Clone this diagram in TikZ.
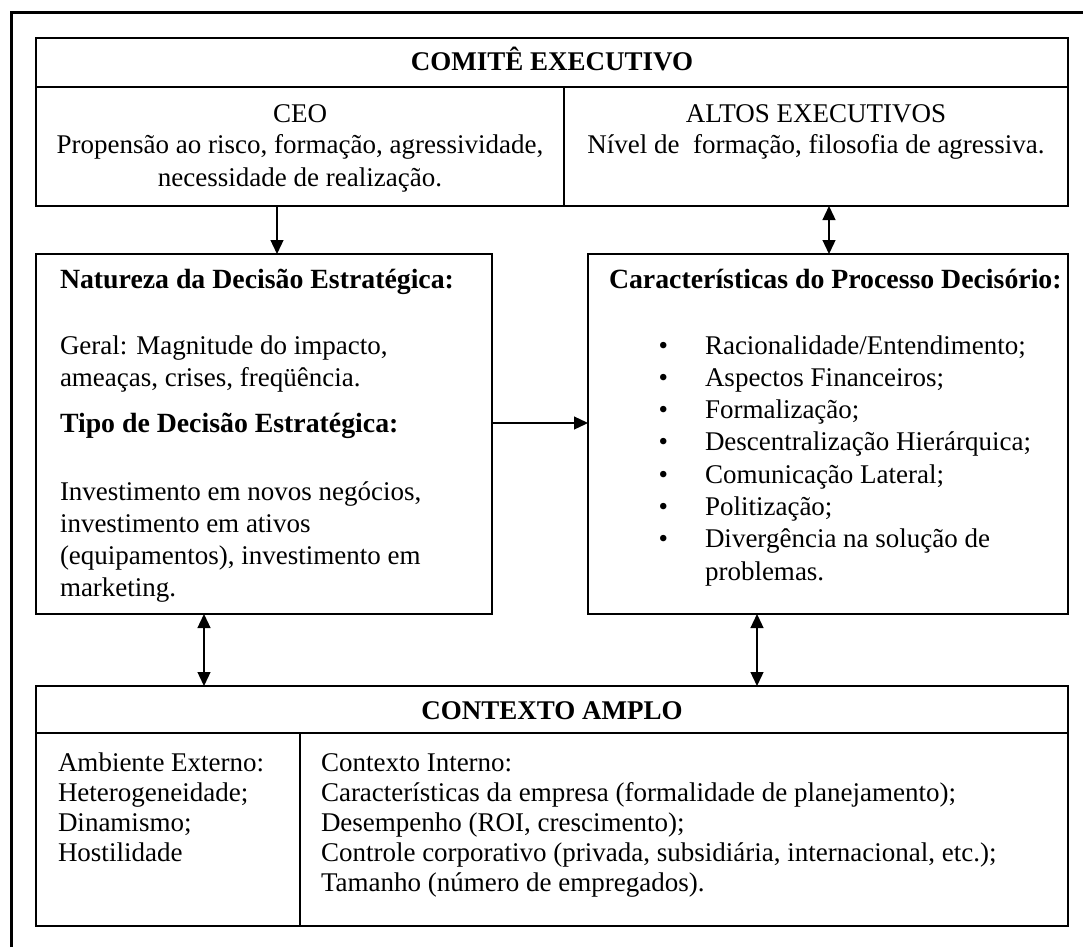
\documentclass[tikz,border=0pt]{standalone}
\usepackage{fontspec}
\setmainfont{Liberation Serif}
\usetikzlibrary{arrows.meta}

% bullet item for the decision-process list
\newcommand{\bitem}[1]{\makebox[46.5pt][l]{•}#1}

\tikzset{
  cell/.style={draw, line width=1.3pt, inner sep=0pt, outer sep=0pt, anchor=north west},
  txt/.style={inner sep=0pt, outer sep=0pt, font=\fontsize{27}{32}\selectfont},
  head/.style={txt, font=\fontsize{27.8}{32}\selectfont\bfseries},
  arr/.style={line width=1.3pt, -{Triangle[length=14pt,width=13pt]}},
  dbl/.style={line width=1.3pt, {Triangle[length=14pt,width=13pt]}-{Triangle[length=14pt,width=13pt]}},
}

\begin{document}
\begin{tikzpicture}[x=1pt,y=-1pt]
\useasboundingbox (0,0) rectangle (1083,947);

% outer frame (top and left edges)
\draw[line width=3pt] (11,947) -- (11,13) -- (1083,13);

% executive committee
\node[cell, minimum width=1032pt, minimum height=49pt]  (hdr)   at (36,38)  {};
\node[cell, minimum width=528pt,  minimum height=119pt] (ceo)   at (36,87)  {};
\node[cell, minimum width=504pt,  minimum height=119pt] (altos) at (564,87) {};

% strategic decision and decision process
\node[cell, minimum width=456pt, minimum height=360pt] (nat)  at (36,254)  {};
\node[cell, minimum width=480pt, minimum height=360pt] (proc) at (588,254) {};

% broad context
\node[cell, minimum width=1032pt, minimum height=47pt]  (ctx) at (36,686)  {};
\node[cell, minimum width=264pt,  minimum height=193pt] (ext) at (36,733)  {};
\node[cell, minimum width=768pt,  minimum height=193pt] (int) at (300,733) {};

% texts
\node[txt, anchor=base] (hdrt) at (552,71) {\bfseries COMITÊ EXECUTIVO};
\node[txt, anchor=base] (ceot) at (300,122)
  {\begin{tabular}[t]{@{}c@{}}CEO\\Propensão ao risco, formação, agressividade,\\necessidade de realização.\end{tabular}};
\node[txt, anchor=base] (altost) at (816,122)
  {\begin{tabular}[t]{@{}c@{}}ALTOS EXECUTIVOS\\Nível de\ \ formação, filosofia de agressiva.\end{tabular}};

\node[head, anchor=base west] (natt1) at (60,288) {Natureza da Decisão Estratégica:};
\node[txt, anchor=base west] (natt2) at (60,354)
  {\begin{tabular}[t]{@{}l@{}}Geral: Magnitude do impacto,\\ameaças, crises, freqüência.\end{tabular}};
\node[head, anchor=base west] (natt3) at (60,432) {Tipo de Decisão Estratégica:};
\node[txt, anchor=base west] (natt4) at (60,500)
  {\begin{tabular}[t]{@{}l@{}}Investimento em novos negócios,\\investimento em ativos\\(equipamentos), investimento em\\marketing.\end{tabular}};

\node[head, anchor=base west] (proct1) at (609,288) {Características do Processo Decisório:};
\node[txt, anchor=base west, font=\fontsize{27}{32.3}\selectfont] (proct2) at (658.5,354)
  {\begin{tabular}[t]{@{}l@{}}\bitem{Racionalidade/Entendimento;}\\\bitem{Aspectos Financeiros;}\\\bitem{Formalização;}\\\bitem{Descentralização Hierárquica;}\\\bitem{Comunicação Lateral;}\\\bitem{Politização;}\\\bitem{Divergência na solução de}\\\makebox[46.5pt]{}problemas.\end{tabular}};

\node[txt, anchor=base] (ctxt) at (552,719) {\bfseries CONTEXTO AMPLO};
\node[txt, anchor=base west, font=\fontsize{27}{30}\selectfont] (extt) at (58,771)
  {\begin{tabular}[t]{@{}l@{}}Ambiente Externo:\\Heterogeneidade;\\Dinamismo;\\Hostilidade\end{tabular}};
\node[txt, anchor=base west, font=\fontsize{27}{30}\selectfont] (intt) at (321,771)
  {\begin{tabular}[t]{@{}l@{}}Contexto Interno:\\Características da empresa (formalidade de planejamento);\\Desempenho (ROI, crescimento);\\Controle corporativo (privada, subsidiária, internacional, etc.);\\Tamanho (número de empregados).\end{tabular}};

% connector positions
\coordinate (xa) at (277,0);
\coordinate (xb) at (829,0);
\coordinate (xc) at (204,0);
\coordinate (xd) at (757,0);
\coordinate (ya) at (0,423);

% connectors
\draw[arr] (xa |- ceo.south)  -- (xa |- nat.north);
\draw[dbl] (xb |- altos.south) -- (xb |- proc.north);
\draw[arr] (nat.east |- ya)   -- (proc.west |- ya);
\draw[dbl] (xc |- nat.south)  -- (xc |- ctx.north);
\draw[dbl] (xd |- proc.south) -- (xd |- ctx.north);
\end{tikzpicture}
\end{document}
